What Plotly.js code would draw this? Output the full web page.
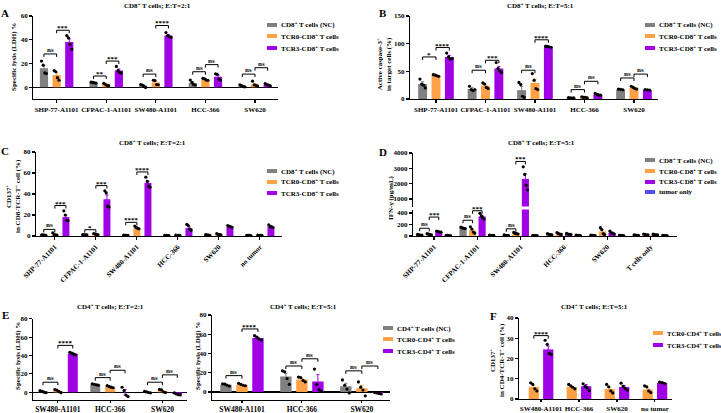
<!DOCTYPE html>
<html>
<head>
<meta charset="utf-8">
<script src="https://cdn.plot.ly/plotly-3.0.1.min.js"></script>
<style>
  html, body { margin: 0; padding: 0; background: #fff; }
  #chart { width: 721px; height: 413px; }
</style>
</head>
<body>
<div id="chart"></div>
<script>
// ---------- Panel A: CD8+ T cells, LDH specific lysis, E:T = 2:1 ----------
const linesA = ['SHP-77-A1101', 'CFPAC-1-A1101', 'SW480-A1101', 'HCC-366', 'SW620'];
const ticksA = [0, 20, 40, 60];
const aNC = [16, 3.8, 1.3, 3.5, 1.0];
const aNCErr = [2.6, 0.3, 0.6, 1.0, 0.5];
const aNCPts = [[22, 18.5, 12, 11.5], [4.2, 4, 3.6, 3.4], [2.2, 1.8, 0.6, -0.4], [6, 4, 2.2, 1.8], [2, 1.2, 0.5, 0.3]];
const aTCR0 = [10.2, 2.2, 3.9, 6.5, 2.3];
const aTCR0Err = [1.9, 0.6, 0.8, 0.3, 0.9];
const aTCR0Pts = [[14, 13, 8, 5.8], [3.2, 2.4, 1.4, 1.2], [5.8, 5.6, 2.2, 2], [7.4, 7, 6, 5.8], [5, 2, 1.5, 0.8]];
const aTCR3 = [38, 14, 43.5, 8.7, 2.0];
const aTCR3Err = [2.8, 1.3, 1.0, 1.3, 0.4];
const aTCR3Pts = [[43.5, 41.5, 36, 32], [17.5, 14, 12.5, 12], [46, 43.5, 42.5, 42], [11.2, 10.8, 6.8, 6], [3, 2.2, 1.8, 1]];
// [group, from series, to series, bracket height, label]
const aSig = [[0, 0, 1, 28, 'ns'], [0, 1, 2, 48, '***'], [1, 0, 1, 9.4, '**'], [1, 1, 2, 22, '***'],
              [2, 0, 1, 11, 'ns'], [2, 1, 2, 52, '****'], [3, 0, 1, 13, 'ns'], [3, 1, 2, 19, 'ns'],
              [4, 0, 1, 11, 'ns'], [4, 1, 2, 16.4, 'ns']];

// ---------- Panel B: CD8+ T cells, active caspase-3, E:T = 5:1 ----------
const linesB = ['SHP-77-A1101', 'CFPAC-1-A1101', 'SW480-A1101', 'HCC-366', 'SW620'];
const ticksB = [0, 50, 100, 150];
const bNC = [27, 18, 16, 2, 17];
const bNCErr = [4, 2.5, 6.5, 0.4, 0.5];
const bNCPts = [[36, 27, 25, 20], [23, 17, 15, 17], [30, 26, 5, 3], [2.5, 2, 1.5, 2], [18, 17.5, 16.5]];
const bTCR0 = [43, 24, 29, 3, 20.5];
const bTCR0Err = [1.5, 2.5, 6.5, 0.8, 1.5];
const bTCR0Pts = [[44, 43, 42, 41], [29, 27, 21, 19], [46, 34, 19, 17], [4, 3, 3, 2], [23, 21, 19, 18]];
const bTCR3 = [76, 55, 94.5, 8, 16.5];
const bTCR3Err = [3, 4, 0.8, 1, 0.5];
const bTCR3Pts = [[83, 76, 72, 73], [66, 55, 51, 48], [95.5, 95, 94, 93.5], [10, 8, 7, 7], [17, 16.5, 16]];
const bSig = [[0, 0, 1, 76, '*'], [0, 1, 2, 93, '****'], [1, 0, 1, 52, 'ns'], [1, 1, 2, 70, '***'],
              [2, 0, 1, 52, 'ns'], [2, 1, 2, 107, '****'], [3, 0, 1, 17, 'ns'], [3, 1, 2, 32, 'ns'],
              [4, 0, 1, 38, 'ns'], [4, 1, 2, 45, 'ns']];

// ---------- Panel C: CD8+ T cells, CD137+, E:T = 2:1 ----------
const linesC = ['SHP-77-A1101', 'CFPAC-1-A1101', 'SW480-A1101', 'HCC-366', 'SW620', 'no tumor'];
const ticksC = [0, 20, 40, 60, 80];
const cNC = [1, 1.2, 0.6, 0.5, 1, 0.5];
const cNCErr = [0.3, 0.2, 0.1, 0.1, 0.2, 0.1];
const cNCPts = [[1.2, 1, 0.8, 0.6], [1.4, 1.2, 1.1, 1], [0.8, 0.6, 0.5, 0.5], [0.7, 0.5, 0.4, 0.4], [1.3, 1.1, 0.9, 0.7], [0.6, 0.5, 0.5, 0.4]];
const cTCR0 = [1.5, 1.8, 8, 0.6, 1.6, 0.6];
const cTCR0Err = [0.5, 0.3, 0.6, 0.1, 0.3, 0.1];
const cTCR0Pts = [[3, 1.2, 1, 0.8], [2.4, 1.8, 1.6, 1.4], [9.5, 8.2, 7.4, 6.8], [0.8, 0.6, 0.5, 0.5], [2.2, 1.6, 1.4, 1.2], [0.8, 0.6, 0.5, 0.5]];
const cTCR3 = [18, 35, 50.5, 7.5, 9, 9];
const cTCR3Err = [2, 4, 1.8, 1.2, 0.5, 0.6];
const cTCR3Pts = [[24, 20, 15, 14.5], [43, 41, 28.5, 27.5], [56, 52, 47.5, 46.5], [11, 10, 6.5, 5.5], [10, 9.2, 8.8, 8.3], [10.5, 9, 8.6, 8]];
const cSig = [[0, 0, 1, 6.3, 'ns'], [0, 1, 2, 29, '***'], [1, 0, 1, 6, '*'], [1, 1, 2, 48, '***'],
              [2, 0, 1, 13, '****'], [2, 1, 2, 61, '****']];

// ---------- Panel D: CD8+ T cells, IFN-gamma, E:T = 5:1 (broken axis) ----------
const linesD = ['SHP-77-A1101', 'CFPAC-1-A1101', 'SW480-A1101', 'HCC-366', 'SW620', 'T cells only'];
const ticksDHigh = [1000, 2000, 3000, 4000];
const ticksDLow = [0, 200, 400];
const dNC = [20, 140, 12, 30, 10, 15];
const dNCErr = [4, 6, 3, 6, 3, 4];
const dNCPts = [[28, 20, 16, 14], [155, 140, 135, 130], [18, 12, 10, 8], [42, 30, 25, 22], [15, 10, 8, 6], [22, 15, 12, 10]];
const dTCR0 = [30, 100, 45, 40, 80, 25];
const dTCR0Err = [5, 25, 6, 8, 28, 5];
const dTCR0Pts = [[42, 32, 25, 22], [160, 120, 70, 50], [62, 45, 40, 35], [60, 40, 32, 28], [145, 110, 40, 25], [35, 25, 20, 18]];
const dTCR3 = [75, 340, 2300, 35, 55, 25];
const dTCR3Err = [5, 20, 340, 5, 12, 4];
const dTCR3Pts = [[85, 78, 70, 67], [395, 350, 320, 295], [3100, 2600, 1900, 1600], [45, 35, 30, 28], [85, 55, 45, 35], [32, 25, 22, 20]];
const dTumor = [10, 12, 9, 11, 10, 8];
const dTumorErr = [2, 2, 2, 2, 2, 2];
const dTumorPts = [[13, 10, 9, 8], [15, 12, 11, 10], [12, 9, 8, 7], [14, 11, 10, 9], [13, 10, 9, 8], [10, 8, 7, 7]];
const dSigLow = [[0, 0, 1, 135, 'ns'], [0, 1, 2, 330, '***'], [1, 0, 1, 275, 'ns'], [1, 1, 2, 440, '***'], [2, 0, 1, 125, 'ns']];
const dSigHigh = [[2, 1, 2, 3450, '***']];

// ---------- Panel E: CD4+ T cells, LDH specific lysis ----------
const linesE = ['SW480-A1101', 'HCC-366', 'SW620'];
const ticksE = [0, 20, 40, 60, 80];
// E:T = 2:1
const e2NC = [0.8, 8.5, 0.3];
const e2NCErr = [0.6, 0.4, 0.5];
const e2NCPts = [[1.8, 1, 0.2, -0.4], [9.2, 8.8, 8.2, 7.8], [1.2, 0.4, -0.2, -0.5]];
const e2TCR0 = [1.5, 6, 1.5];
const e2TCR0Err = [0.8, 0.5, 0.8];
const e2TCR0Pts = [[3, 2.4, 1, -0.4], [7.2, 6.2, 5.6, 5], [3.2, 2.6, 0.6, -0.3]];
const e2TCR3 = [42, 0, -1.8];
const e2TCR3Err = [0.6, 3, 0.6];
const e2TCR3Pts = [[43.5, 42.5, 41.5, 40.8], [5.5, 2, -3, -4.5], [-0.6, -1.8, -2.5, -2.8]];
const e2Sig = [[0, 0, 1, 11, 'ns'], [0, 1, 2, 51, '****'], [1, 0, 1, 16, 'ns'], [1, 1, 2, 24, 'ns'],
               [2, 0, 1, 11, 'ns'], [2, 1, 2, 19, 'ns']];
// E:T = 5:1
const e5NC = [7.5, 16, 6];
const e5NCErr = [0.8, 3.3, 3];
const e5NCPts = [[8.5, 8.2, 7, 6.2], [22, 21, 14, 8], [12.5, 7, 3, -1]];
const e5TCR0 = [7.5, 13, 4];
const e5TCR0Err = [0.6, 1.2, 3];
const e5TCR0Pts = [[9, 8, 7, 6.5], [15.5, 15, 12, 10.5], [10.5, 5, 2, -4]];
const e5TCR3 = [56, 11, -1];
const e5TCR3Err = [1, 7, 0.4];
const e5TCR3Pts = [[58.5, 57, 55, 54], [23.8, 8, 2.4, 0.8], [-0.3, -1, -1.5, -2]];
const e5Sig = [[0, 0, 1, 17, 'ns'], [0, 1, 2, 65.5, '****'], [1, 0, 1, 27, 'ns'], [1, 1, 2, 34.5, 'ns'],
               [2, 0, 1, 22, 'ns'], [2, 1, 2, 27, 'ns']];

// ---------- Panel F: CD4+ T cells, CD137+, E:T = 5:1 ----------
const linesF = ['SW480-A1101', 'HCC-366', 'SW620', 'no tumor'];
const ticksF = [0, 10, 20, 30, 40];
const fTCR0 = [6, 6, 4.9, 4.7];
const fTCR0Err = [0.9, 0.5, 0.9, 0.8];
const fTCR0Pts = [[8, 7.2, 5, 4], [7.2, 6.5, 5.8, 5], [7.2, 6, 4, 3], [6.5, 6, 4, 3.2]];
const fTCR3 = [24.5, 6.3, 5.9, 8];
const fTCR3Err = [1.6, 0.8, 0.8, 0.3];
const fTCR3Pts = [[29, 27, 22.5, 22], [7.5, 6.2, 5.5, 4.2], [7.8, 6.2, 5.2, 4.4], [8.4, 8.1, 7.6]];
const fSig = [[0, 0, 1, 31.3, '****']];

// ---------- drawing ----------
const W = 721, H = 413;
const FONT = 'Liberation Serif, "Times New Roman", serif';
const COL = { nc: '#808080', tcr0: '#FFA247', tcr3: '#A000E6', tumor: '#5050F2' };
const JIT = { 1: [0], 2: [-0.2, 0.2], 3: [-0.25, 0, 0.25], 4: [-0.3, -0.1, 0.1, 0.3] };
const px = x => x / W;
const py = y => 1 - y / H;
const dom = (a, b) => [px(a), px(b)];
const domY = (top, bottom) => [py(bottom), py(top)];

const traces = [], shapes = [], annotations = [];
const txt = (size) => ({ family: FONT, size: size, color: '#000000', weight: 'bold' });

function addSeries(ax, ay, means, errs, pts, offset, bw, color) {
  traces.push({
    type: 'bar', xaxis: ax, yaxis: ay,
    x: means.map((_, i) => i + offset), y: means, width: bw,
    marker: { color: color, line: { width: 0 } },
    error_y: { type: 'data', array: errs, visible: true, color: color, thickness: 1, width: 1.5 },
    hoverinfo: 'skip'
  });
  const xs = [], ys = [];
  pts.forEach((g, i) => g.forEach((v, k) => { xs.push(i + offset + bw * JIT[g.length][k]); ys.push(v); }));
  traces.push({
    type: 'scatter', mode: 'markers', xaxis: ax, yaxis: ay, x: xs, y: ys,
    marker: { color: '#000', size: 3.2, symbol: 'circle' }, hoverinfo: 'skip'
  });
}

function addBrackets(ax, ay, list, offsets) {
  list.forEach(([g, a, b, y, label]) => {
    const xa = g + offsets[a], xb = g + offsets[b];
    shapes.push({
      type: 'path', xref: ax, yref: ay, ysizemode: 'pixel', yanchor: y,
      path: `M${xa},-3L${xa},0L${xb},0L${xb},-3`, line: { color: '#000', width: 1 }
    });
    annotations.push({
      xref: ax, yref: ay, x: (xa + xb) / 2, y: y, text: label, showarrow: false,
      yanchor: 'bottom', yshift: label === 'ns' ? -2 : -4, font: txt(7)
    });
  });
}

function addText(x, y, text, size, extra) {
  annotations.push(Object.assign({
    xref: 'paper', yref: 'paper', x: px(x), y: py(y), text: text, showarrow: false,
    xanchor: 'center', yanchor: 'middle', font: txt(size)
  }, extra || {}));
}

function addLegend(xSw, ys, entries, size) {
  entries.forEach(([label, color], i) => {
    shapes.push({
      type: 'rect', xref: 'paper', yref: 'paper', x0: px(xSw), x1: px(xSw + 10),
      y0: py(ys[i] + 2), y1: py(ys[i] - 2), fillcolor: color, line: { width: 0 }
    });
    addText(xSw + 12, ys[i], label, size || 7, { xanchor: 'left' });
  });
}

const baseAxis = {
  showgrid: false, zeroline: false, showline: true, linecolor: '#000', linewidth: 1.2,
  ticks: 'outside', ticklen: 3, tickwidth: 1.1, tickcolor: '#000', tickfont: txt(7), fixedrange: true
};
function xax(d, range, anchor, labels, more) {
  return Object.assign({}, baseAxis, {
    domain: dom(d[0], d[1]), range: range, anchor: anchor,
    tickmode: 'array', tickvals: labels.map((_, i) => i), ticktext: labels
  }, more || {});
}
function yax(d, range, anchor, vals, more) {
  return Object.assign({}, baseAxis, {
    domain: domY(d[0], d[1]), range: range, anchor: anchor, tickmode: 'array', tickvals: vals
  }, more || {});
}
const zeroLine = { zeroline: true, zerolinecolor: '#000', zerolinewidth: 1.2 };

// A
const offA = [-0.255, 0, 0.255], bwA = 0.165;
addSeries('x', 'y', aNC, aNCErr, aNCPts, offA[0], bwA, COL.nc);
addSeries('x', 'y', aTCR0, aTCR0Err, aTCR0Pts, offA[1], bwA, COL.tcr0);
addSeries('x', 'y', aTCR3, aTCR3Err, aTCR3Pts, offA[2], bwA, COL.tcr3);
addBrackets('x', 'y', aSig, offA);

// B
const offB = [-0.27, 0, 0.27], bwB = 0.18;
addSeries('x2', 'y2', bNC, bNCErr, bNCPts, offB[0], bwB, COL.nc);
addSeries('x2', 'y2', bTCR0, bTCR0Err, bTCR0Pts, offB[1], bwB, COL.tcr0);
addSeries('x2', 'y2', bTCR3, bTCR3Err, bTCR3Pts, offB[2], bwB, COL.tcr3);
addBrackets('x2', 'y2', bSig, offB);

// C
const offC = [-0.27, 0, 0.27], bwC = 0.17;
addSeries('x3', 'y3', cNC, cNCErr, cNCPts, offC[0], bwC, COL.nc);
addSeries('x3', 'y3', cTCR0, cTCR0Err, cTCR0Pts, offC[1], bwC, COL.tcr0);
addSeries('x3', 'y3', cTCR3, cTCR3Err, cTCR3Pts, offC[2], bwC, COL.tcr3);
addBrackets('x3', 'y3', cSig, offC);

// D: the same bars are drawn into both segments of the broken axis
const offD = [-0.33, -0.11, 0.11, 0.33], bwD = 0.165;
['y4', 'y5'].forEach(ay => {
  addSeries('x4', ay, dNC, dNCErr, dNCPts, offD[0], bwD, COL.nc);
  addSeries('x4', ay, dTCR0, dTCR0Err, dTCR0Pts, offD[1], bwD, COL.tcr0);
  addSeries('x4', ay, dTCR3, dTCR3Err, dTCR3Pts, offD[2], bwD, COL.tcr3);
  addSeries('x4', ay, dTumor, dTumorErr, dTumorPts, offD[3], bwD, COL.tumor);
});
addBrackets('x4', 'y5', dSigLow, offD);
addBrackets('x4', 'y4', dSigHigh, offD);

// E left (2:1) and right (5:1)
const offE2 = [-0.285, 0, 0.285], bwE2 = 0.19;
addSeries('x5', 'y6', e2NC, e2NCErr, e2NCPts, offE2[0], bwE2, COL.nc);
addSeries('x5', 'y6', e2TCR0, e2TCR0Err, e2TCR0Pts, offE2[1], bwE2, COL.tcr0);
addSeries('x5', 'y6', e2TCR3, e2TCR3Err, e2TCR3Pts, offE2[2], bwE2, COL.tcr3);
addBrackets('x5', 'y6', e2Sig, offE2);
const offE5 = [-0.267, 0, 0.267], bwE5 = 0.19;
addSeries('x6', 'y7', e5NC, e5NCErr, e5NCPts, offE5[0], bwE5, COL.nc);
addSeries('x6', 'y7', e5TCR0, e5TCR0Err, e5TCR0Pts, offE5[1], bwE5, COL.tcr0);
addSeries('x6', 'y7', e5TCR3, e5TCR3Err, e5TCR3Pts, offE5[2], bwE5, COL.tcr3);
addBrackets('x6', 'y7', e5Sig, offE5);

// F
const offF = [-0.19, 0.19], bwF = 0.27;
addSeries('x7', 'y8', fTCR0, fTCR0Err, fTCR0Pts, offF[0], bwF, COL.tcr0);
addSeries('x7', 'y8', fTCR3, fTCR3Err, fTCR3Pts, offF[1], bwF, COL.tcr3);
addBrackets('x7', 'y8', fSig, offF);

// panel letters, titles, axis titles
addText(5, 13, 'A', 11); addText(383, 13, 'B', 11); addText(5, 151, 'C', 11);
addText(383, 152, 'D', 11); addText(5, 315, 'E', 11); addText(493, 316, 'F', 11);
addText(157, 5, 'CD8<sup>+</sup> T cells; E:T=2:1', 7);
addText(540, 5, 'CD8<sup>+</sup> T cells; E:T=5:1', 7);
addText(152, 142, 'CD8<sup>+</sup> T cells; E:T=2:1', 7);
addText(541, 142, 'CD8<sup>+</sup> T cells; E:T=5:1', 7);
addText(111, 306, 'CD4<sup>+</sup> T cells; E:T=2:1', 7);
addText(303, 306, 'CD4<sup>+</sup> T cells; E:T=5:1', 7);
addText(594, 306, 'CD4<sup>+</sup> T cells; E:T=5:1', 7);

const rot = { textangle: -90 };
addText(14, 57, 'Specific lysis (LDH) %', 7, rot);
addText(384, 64, 'Active caspase-3<sup>+</sup><br>in target cells (%)', 7, rot);
addText(13, 196, 'CD137<sup>+</sup><br>in CD8-TCR-T<sup>+</sup> cell (%)', 7, rot);
addText(391, 198, 'IFN-γ (pg/mL)', 7, rot);
addText(18, 356, 'Specific lysis (LDH) %', 7, rot);
addText(198, 356, 'Specific lysis (LDH) %', 7, rot);
addText(497, 360, 'CD137<sup>+</sup><br>in CD4-TCR-T<sup>+</sup> cell (%)', 7, rot);

// legends
const cd8Legend = [['CD8<sup>+</sup> T cells (NC)', COL.nc], ['TCR0-CD8<sup>+</sup> T cells', COL.tcr0], ['TCR3-CD8<sup>+</sup> T cells', COL.tcr3]];
addLegend(267, [25, 36, 48], cd8Legend);
addLegend(645, [25, 36, 48], cd8Legend);
addLegend(267, [171, 182, 193], cd8Legend);
addLegend(645, [160, 171, 182, 192], cd8Legend.concat([['tumor only', COL.tumor]]));
addLegend(383, [328, 339, 351], [['CD4<sup>+</sup> T cells (NC)', COL.nc], ['TCR0-CD4<sup>+</sup> T cells', COL.tcr0], ['TCR3-CD4<sup>+</sup> T cells', COL.tcr3]]);
addLegend(653, [333, 345], [['TCR0-CD4<sup>+</sup> T cells', COL.tcr0], ['TCR3-CD4<sup>+</sup> T cells', COL.tcr3]], 6.6);

const layout = {
  width: W, height: H, margin: { l: 0, r: 0, t: 0, b: 0 },
  paper_bgcolor: '#fff', plot_bgcolor: 'rgba(0,0,0,0)',
  showlegend: false, barmode: 'overlay', font: txt(7),
  xaxis: xax([33.3, 278.3], [-0.47, 4.47], 'y', linesA),
  yaxis: yax([16, 99], [-10, 60], 'x', ticksA, zeroLine),
  xaxis2: xax([410, 658], [-0.525, 4.485], 'y2', linesB),
  yaxis2: yax([16, 99], [0, 150], 'x2', ticksB),
  xaxis3: xax([36, 282], [-0.46, 5.54], 'y3', linesC, { tickangle: -45 }),
  yaxis3: yax([152, 236], [0, 80], 'x3', ticksC),
  xaxis4: xax([413, 677], [-0.485, 5.61], 'y5', linesD, { tickangle: -45 }),
  yaxis4: yax([153, 206.5], [510, 4000], 'x4', ticksDHigh),
  yaxis5: yax([209.6, 236], [0, 460], 'x4', ticksDLow),
  xaxis5: xax([33, 187], [-0.476, 2.47], 'y6', linesE, { tickfont: txt(7.5), ticklen: 2.5 }),
  yaxis6: yax([318.7, 399.7], [-8, 80], 'x5', ticksE, zeroLine),
  xaxis6: xax([212, 390], [-0.5, 2.47], 'y7', linesE, { tickfont: txt(7.5), ticklen: 2.5 }),
  yaxis7: yax([315, 399.7], [-8, 80], 'x6', ticksE, zeroLine),
  xaxis7: xax([519, 672], [-0.58, 3.45], 'y8', linesF, { ticklen: 2 }),
  yaxis8: yax([318, 399], [0, 40], 'x7', ticksF),
  shapes: shapes, annotations: annotations
};

Plotly.newPlot('chart', traces, layout, { staticPlot: true, displayModeBar: false });
</script>
</body>
</html>
